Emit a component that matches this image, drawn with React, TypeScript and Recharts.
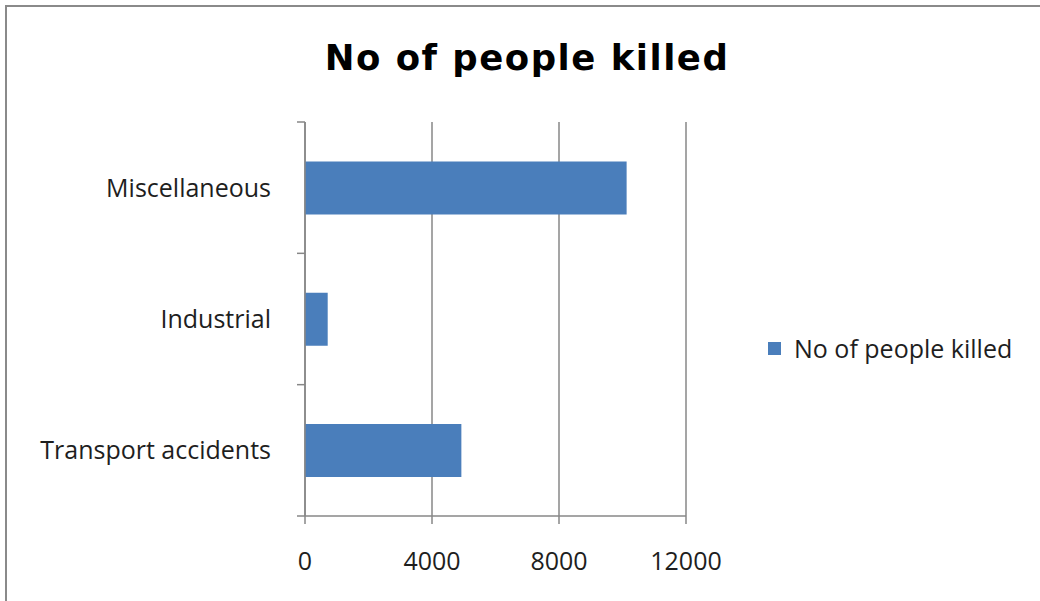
import React from 'react';
import { BarChart, Bar, XAxis, YAxis, CartesianGrid, Legend } from 'recharts';

const categories = ['Miscellaneous', 'Industrial', 'Transport accidents'];
const killed = [10130, 715, 4925];
const xTicks = [0, 4000, 8000, 12000];
const seriesName = 'No of people killed';
const title = 'No of people killed';

const data = categories.map((c, i) => ({ category: c, value: killed[i] }));

const W = 1040;
const H = 601;
const PLOT_TOP = 122;
const PLOT_BOTTOM = 516;
const PLOT_RIGHT = 686;
const PLOT_LEFT = 305;
const GRAY = '#878787';
const BAR = '#4A7EBB';
const TEXT = '#1e1e1e';
const FONT = "'Open Sans', sans-serif";
const HALF_BAND = (PLOT_BOTTOM - PLOT_TOP) / categories.length / 2;
const TICK_SIZE = 8;
const Y_TICK_MARGIN = 26;

const YTick = (props: any) => {
  const { x, y, payload, index } = props;
  const lineX1 = x + Y_TICK_MARGIN;
  const lineX2 = lineX1 + TICK_SIZE;
  return (
    <g>
      <line x1={lineX1} x2={lineX2} y1={y - HALF_BAND} y2={y - HALF_BAND} stroke={GRAY} strokeWidth={1.5} />
      {index === categories.length - 1 && (
        <line x1={lineX1} x2={lineX2} y1={y + HALF_BAND} y2={y + HALF_BAND} stroke={GRAY} strokeWidth={1.5} />
      )}
      <text x={x} y={y} dy="0.355em" textAnchor="end" fill={TEXT} fontSize={25} fontFamily={FONT}>
        {payload.value}
      </text>
    </g>
  );
};

const LegendContent = (props: any) => {
  const items = props.payload || [];
  return (
    <div>
      {items.map((it: any, i: number) => (
        <div
          key={i}
          style={{
            display: 'flex',
            alignItems: 'center',
            fontFamily: FONT,
            fontSize: 25,
            color: TEXT,
            lineHeight: '30px',
            whiteSpace: 'nowrap',
          }}
        >
          <span style={{ display: 'inline-block', width: 13, height: 13, background: BAR, marginRight: 13 }} />
          {it.value}
        </div>
      ))}
    </div>
  );
};

export default function App() {
  return (
    <div style={{ position: 'fixed', left: 0, top: 0, width: W, height: H, overflow: 'hidden', background: '#fff' }}>
      <div
        style={{
          position: 'absolute',
          left: 5,
          top: 5,
          width: W + 20,
          height: H + 20,
          borderTop: '2px solid #8a8a8a',
          borderLeft: '2px solid #8a8a8a',
          boxSizing: 'border-box',
        }}
      />
      <div
        style={{
          position: 'absolute',
          left: 0,
          top: 38,
          width: 1054,
          textAlign: 'center',
          fontFamily: "'DejaVu Sans', sans-serif",
          fontWeight: 'bold',
          fontSize: 35.5,
          letterSpacing: 1.5,
          lineHeight: '40px',
          color: '#000',
          whiteSpace: 'nowrap',
        }}
      >
        {title}
      </div>
      <div style={{ position: 'absolute', left: 0, top: 0 }}>
        <BarChart
          width={W}
          height={H}
          data={data}
          layout="vertical"
          margin={{ top: PLOT_TOP, right: W - PLOT_RIGHT, bottom: 0, left: 0 }}
          barCategoryGap="30%"
        >
          <CartesianGrid horizontal={false} vertical={true} stroke={GRAY} strokeWidth={1.5} />
          <XAxis
            type="number"
            domain={[0, 12000]}
            ticks={xTicks}
            interval={0}
            height={H - PLOT_BOTTOM}
            axisLine={{ stroke: GRAY, strokeWidth: 1.5 }}
            tickLine={{ stroke: GRAY, strokeWidth: 1.5 }}
            tickSize={TICK_SIZE}
            tickMargin={28}
            tick={{ fill: TEXT, fontSize: 25, fontFamily: FONT }}
          />
          <YAxis
            type="category"
            dataKey="category"
            width={PLOT_LEFT}
            axisLine={{ stroke: GRAY, strokeWidth: 1.5 }}
            tickLine={false}
            tickSize={TICK_SIZE}
            tickMargin={Y_TICK_MARGIN}
            interval={0}
            tick={<YTick />}
          />
          <Legend
            layout="horizontal"
            align="center"
            verticalAlign="middle"
            content={<LegendContent />}
            wrapperStyle={{ left: 768, top: 333, width: 'auto' }}
          />
          <Bar dataKey="value" name={seriesName} fill={BAR} isAnimationActive={false} />
        </BarChart>
      </div>
    </div>
  );
}
